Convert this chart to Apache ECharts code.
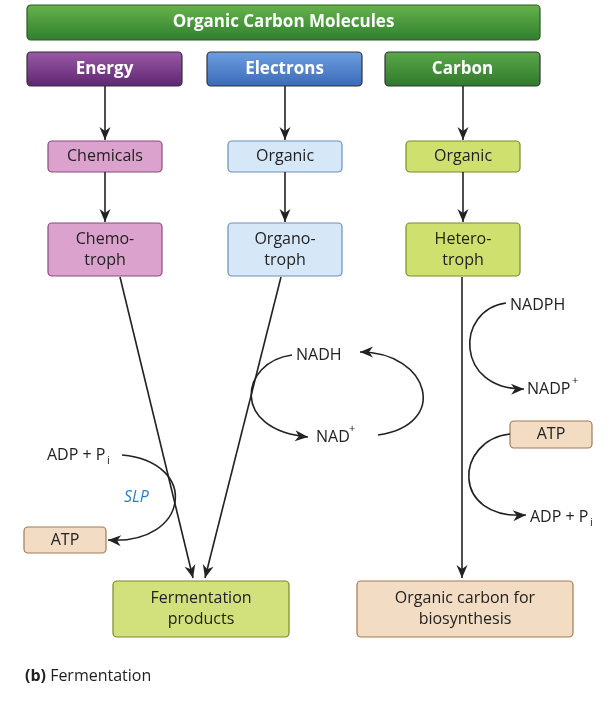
<!DOCTYPE html>
<html><head><meta charset="utf-8">
<script src="https://cdn.jsdelivr.net/npm/echarts@6/dist/echarts.min.js"></script>
<style>html,body{margin:0;background:#fff}#c{width:616px;height:706px}</style>
</head><body><div id="c"></div>
<script>
// labels of the diagram
const title = 'Organic Carbon Molecules';
const headers = ['Energy', 'Electrons', 'Carbon'];
const sources = ['Chemicals', 'Organic', 'Organic'];
const trophs = ['Chemo-\ntroph', 'Organo-\ntroph', 'Hetero-\ntroph'];
const outputs = ['Fermentation\nproducts', 'Organic carbon for\nbiosynthesis'];
const caption = 'Fermentation';

const chart = echarts.init(document.getElementById('c'));
const F = '"Open Sans", "Noto Sans", sans-serif';
const els = [];

function grad(a, b) {
  return new echarts.graphic.LinearGradient(0, 0, 0, 1, [{offset: 0, color: a}, {offset: 1, color: b}]);
}
function box(x, y, w, h, text, fill, stroke, color, bold, size) {
  els.push({type: 'rect', shape: {x, y, width: w, height: h, r: 4},
    style: {fill, stroke, lineWidth: 1.2}});
  els.push({type: 'text', x: x + w / 2, y: y + h / 2,
    style: {text, fill: color, font: (bold ? 'bold ' : '') + (size || 16) + 'px ' + F,
      align: 'center', verticalAlign: 'middle', lineHeight: 21}});
}
function head(x, y, ang) {
  const L = 13, W = 5.5, c = Math.cos(ang), s = Math.sin(ang);
  els.push({type: 'polygon', shape: {points: [[x, y],
    [x - L * c - W * s, y - L * s + W * c], [x - L * c * 0.7, y - L * s * 0.7],
    [x - L * c + W * s, y - L * s - W * c]]}, style: {fill: '#222'}});
}
function arrow(x1, y1, x2, y2) {
  els.push({type: 'line', shape: {x1, y1, x2, y2}, style: {stroke: '#222', lineWidth: 1.6}});
  head(x2, y2, Math.atan2(y2 - y1, x2 - x1));
}
function curve(p, noHead) {
  els.push({type: 'bezierCurve', shape: {x1: p[0], y1: p[1], cpx1: p[2], cpy1: p[3],
    cpx2: p[4], cpy2: p[5], x2: p[6], y2: p[7]}, style: {stroke: '#222', lineWidth: 1.6, fill: null}});
  if (!noHead) head(p[6], p[7], Math.atan2(p[7] - p[5], p[6] - p[4]));
}
function txt(x, y, text, opt) {
  els.push(Object.assign({type: 'text', x, y, style: Object.assign({text, fill: '#222',
    font: '16px ' + F, verticalAlign: 'middle'}, opt || {})}));
}

box(27, 5, 513, 35, title, grad('#67b34c', '#2f7f2f'), '#2a5a22', '#fff', true, 17);
const hx = [27, 207, 385];
const hc = [['#9a5aa8', '#5e2570'], ['#6e9fe0', '#3a6ab8'], ['#5aa84a', '#2f7a2c']];
const sc = [['#dba2cd', '#8a4a7a'], ['#d6e8f8', '#6a8fb5'], ['#cfe06e', '#7a8a2a']];
const tc = [['#dba2cd', '#8a4a7a'], ['#d6e8f8', '#6a8fb5'], ['#cfe06e', '#7a8a2a']];
headers.forEach((h, i) => {
  box(hx[i], 52, 155, 34, h, grad(hc[i][0], hc[i][1]), '#333', '#fff', true, 17);
  const mx = hx[i] + 78, bx = hx[i] + 21;
  arrow(mx, 86, mx, 140);
  box(bx, 141, 114, 31, sources[i], sc[i][0], sc[i][1], '#222');
  arrow(mx, 172, mx, 222);
  box(bx, 223, 114, 53, trophs[i], tc[i][0], tc[i][1], '#222');
});
arrow(120, 277, 193, 578);
arrow(281, 277, 205, 578);
arrow(462, 277, 462, 578);
box(113, 581, 176, 56, outputs[0], '#d3e17c', '#7a8a2a', '#222');
box(357, 581, 216, 56, outputs[1], '#f2dcc4', '#a37a55', '#222');

// NADH / NAD+ cycle
txt(296, 355, 'NADH');
txt(316, 437, 'NAD', {rich: {}});
txt(349, 429, '+', {font: '11px ' + F});
curve([292, 355, 240, 362, 230, 430, 308, 437]);
curve([378, 435, 450, 425, 430, 352, 360, 352]);

// NADPH / NADP+
txt(510, 305, 'NADPH');
txt(527, 389, 'NADP');
txt(572, 381, '+', {font: '11px ' + F});
curve([506, 303, 455, 310, 455, 390, 524, 389]);
box(510, 421, 82, 27, 'ATP', '#f2dcc4', '#a37a55', '#222');
curve([510, 434, 455, 440, 450, 520, 526, 515]);
txt(530, 517, 'ADP + P');
txt(590, 523, 'i', {font: '11px ' + F});

// SLP
txt(47, 455, 'ADP + P');
txt(107, 461, 'i', {font: '11px ' + F});
curve([122, 455, 200, 462, 190, 545, 108, 540]);
txt(124, 497, 'SLP', {fill: '#2d7fc0', font: 'italic 16px ' + F});
box(24, 527, 82, 26, 'ATP', '#f2dcc4', '#a37a55', '#222');

txt(25, 676, '', {rich: {b: {font: 'bold 16px ' + F, fill: '#222'}, n: {font: '16px ' + F, fill: '#222'}},
  text: '{b|(b)} {n|' + caption + '}'});

chart.setOption({graphic: {elements: els}});
</script></body></html>
